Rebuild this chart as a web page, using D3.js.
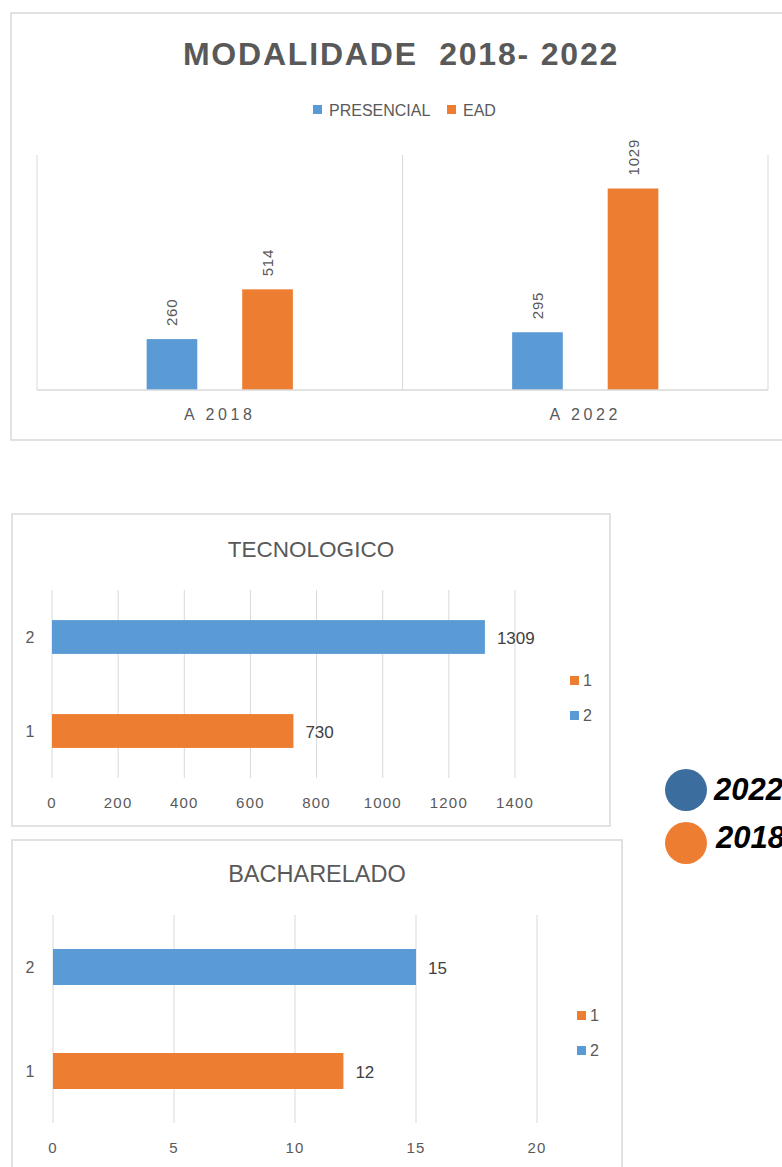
<!DOCTYPE html>
<html>
<head>
<meta charset="utf-8">
<script src="https://cdn.jsdelivr.net/npm/d3@7"></script>
<style>
  body { margin: 0; background: #fff; }
  svg { display: block; font-family: "Liberation Sans", Arial, sans-serif; }
</style>
</head>
<body>
<svg width="782" height="1167"></svg>
<script>
// data
const modalCategories = ["A 2018", "A 2022"];
const modalSeries = ["PRESENCIAL", "EAD"];
const presencialValues = [260, 295];
const eadValues = [514, 1029];

const barCategories = ["2", "1"];
const tecnologicoValues = [1309, 730];
const tecnologicoTicks = [0, 200, 400, 600, 800, 1000, 1200, 1400];
const bachareladoValues = [15, 12];
const bachareladoTicks = [0, 5, 10, 15, 20];
const legendKeys = ["1", "2"];

const yearLabels = ["2022", "2018"];

const blue = "#5b9bd5";
const orange = "#ed7d31";
const grid = "#d9d9d9";
const textGray = "#595959";

const svg = d3.select("svg");
svg.append("rect").attr("width", 782).attr("height", 1167).attr("fill", "#fff");

// ---- top chart: grouped columns ----
svg.append("rect")
  .attr("x", 11).attr("y", 13).attr("width", 820).attr("height", 427)
  .attr("fill", "none").attr("stroke", grid).attr("stroke-width", 1.5);

svg.append("text")
  .attr("x", 401).attr("y", 65)
  .attr("text-anchor", "middle")
  .style("white-space", "pre")
  .style("font-size", "32px").style("font-weight", "bold")
  .style("letter-spacing", "1.8px")
  .style("fill", textGray)
  .text("MODALIDADE  2018- 2022");

const seriesColor = d3.scaleOrdinal().domain(modalSeries).range([blue, orange]);

// legend
const modalLegend = svg.append("g");
const legendPos = [313, 447];
modalSeries.forEach((s, i) => {
  modalLegend.append("rect")
    .attr("x", legendPos[i]).attr("y", 105).attr("width", 9).attr("height", 9)
    .attr("fill", seriesColor(s));
  modalLegend.append("text")
    .attr("x", legendPos[i] + 16).attr("y", 116)
    .style("font-size", "16px").style("fill", textGray)
    .text(s);
});

const x0 = d3.scaleBand().domain(modalCategories).range([37, 768]);
const x1 = d3.scaleBand().domain(modalSeries)
  .range([x0.bandwidth() * 0.3, x0.bandwidth() * 0.7]).paddingInner(0.47);
const yTop = d3.scaleLinear().domain([0, 1200]).range([390, 155]);

// category separators
svg.append("g").selectAll("line")
  .data([...modalCategories.map(c => x0(c)), 768])
  .enter().append("line")
  .attr("x1", d => d).attr("x2", d => d)
  .attr("y1", 155).attr("y2", 390)
  .style("stroke", grid).style("stroke-width", 1);

const modalRows = modalCategories.map((c, i) => ({
  cat: c,
  vals: [
    { s: modalSeries[0], v: presencialValues[i] },
    { s: modalSeries[1], v: eadValues[i] }
  ]
}));

const groups = svg.append("g").selectAll("g")
  .data(modalRows)
  .enter().append("g")
  .attr("transform", d => `translate(${x0(d.cat)},0)`);

groups.selectAll("rect")
  .data(d => d.vals)
  .enter().append("rect")
  .attr("x", d => x1(d.s))
  .attr("y", d => yTop(d.v))
  .attr("width", x1.bandwidth())
  .attr("height", d => yTop(0) - yTop(d.v))
  .style("fill", d => seriesColor(d.s));

groups.selectAll("text")
  .data(d => d.vals)
  .enter().append("text")
  .attr("transform", d => `translate(${x1(d.s) + x1.bandwidth() / 2 + 5.5},${yTop(d.v) - 13}) rotate(-90)`)
  .style("font-size", "15px").style("letter-spacing", "0.8px")
  .style("fill", textGray)
  .text(d => d.v);

// baseline
svg.append("line")
  .attr("x1", 37).attr("x2", 768).attr("y1", 390).attr("y2", 390)
  .style("stroke", grid).style("stroke-width", 1.5);

svg.append("g").selectAll("text")
  .data(modalCategories)
  .enter().append("text")
  .attr("x", d => x0(d) + x0.bandwidth() / 2)
  .attr("y", 420)
  .attr("text-anchor", "middle")
  .style("font-size", "16px").style("letter-spacing", "3.6px")
  .style("fill", textGray)
  .text(d => d);

// ---- horizontal bar charts ----
const catColor = d3.scaleOrdinal().domain(["1", "2"]).range([orange, blue]);

function barChart(opt) {
  const g = svg.append("g");
  g.append("rect")
    .attr("x", opt.frame[0]).attr("y", opt.frame[1])
    .attr("width", opt.frame[2]).attr("height", opt.frame[3])
    .attr("fill", "#fff").attr("stroke", grid).attr("stroke-width", 1.5);

  g.append("text")
    .attr("x", opt.titleX).attr("y", opt.titleY)
    .attr("text-anchor", "middle")
    .style("font-size", opt.titleSize).style("fill", textGray)
    .text(opt.title);

  const x = d3.scaleLinear().domain(d3.extent(opt.ticks)).range(opt.xRange);
  const y = d3.scaleBand().domain(barCategories).range(opt.yRange)
    .paddingInner(opt.pad).paddingOuter(opt.pad / 2);

  g.append("g").selectAll("line")
    .data(opt.ticks)
    .enter().append("line")
    .attr("x1", d => x(d)).attr("x2", d => x(d))
    .attr("y1", opt.yRange[0]).attr("y2", opt.yRange[1])
    .style("stroke", grid).style("stroke-width", 1);

  g.append("g").selectAll("text")
    .data(opt.ticks)
    .enter().append("text")
    .attr("x", d => x(d)).attr("y", opt.tickY)
    .attr("text-anchor", "middle")
    .style("font-size", "15px").style("letter-spacing", "1.2px")
    .style("fill", textGray)
    .text(d => d);

  g.append("g").selectAll("text")
    .data(barCategories)
    .enter().append("text")
    .attr("x", 30).attr("y", d => y(d) + y.bandwidth() / 2 + 6)
    .attr("text-anchor", "middle")
    .style("font-size", "16px").style("fill", textGray)
    .text(d => d);

  g.append("g").selectAll("rect")
    .data(opt.values)
    .enter().append("rect")
    .attr("x", x(0))
    .attr("y", (d, i) => y(barCategories[i]))
    .attr("width", d => x(d) - x(0))
    .attr("height", y.bandwidth())
    .style("fill", (d, i) => catColor(barCategories[i]));

  g.append("g").selectAll("text")
    .data(opt.values)
    .enter().append("text")
    .attr("x", d => x(d) + 12)
    .attr("y", (d, i) => y(barCategories[i]) + y.bandwidth() / 2 + 6.5)
    .style("font-size", "17px").style("fill", "#404040")
    .text(d => d);

  legendKeys.forEach((k, i) => {
    g.append("rect")
      .attr("x", opt.legendX).attr("y", opt.legendY + i * 35)
      .attr("width", 9).attr("height", 9)
      .attr("fill", catColor(k));
    g.append("text")
      .attr("x", opt.legendX + 13).attr("y", opt.legendY + i * 35 + 10)
      .style("font-size", "16px").style("fill", textGray)
      .text(k);
  });
}

barChart({
  title: "TECNOLOGICO", titleSize: "22.5px", frame: [12, 514, 598, 312], titleX: 311, titleY: 557,
  values: tecnologicoValues, ticks: tecnologicoTicks,
  xRange: [52, 515], yRange: [590, 778], pad: 0.64, tickY: 808,
  legendX: 570, legendY: 676
});

barChart({
  title: "BACHARELADO", titleSize: "23.5px", frame: [12, 840, 610, 400], titleX: 317, titleY: 882,
  values: bachareladoValues, ticks: bachareladoTicks,
  xRange: [53, 537], yRange: [915, 1123], pad: 0.654, tickY: 1153,
  legendX: 577, legendY: 1011
});

// ---- year legend ----
const yearColor = d3.scaleOrdinal().domain(yearLabels).range(["#3b6e9f", orange]);
yearLabels.forEach((yr, i) => {
  svg.append("circle")
    .attr("cx", 686).attr("cy", 790 + i * 53).attr("r", 21)
    .attr("fill", yearColor(yr));
  svg.append("text")
    .attr("x", 714 + i * 2).attr("y", 800 + i * 48)
    .style("font-size", "31px").style("font-weight", "bold").style("font-style", "italic")
    .style("fill", "#000")
    .text(yr);
});
</script>
</body>
</html>
